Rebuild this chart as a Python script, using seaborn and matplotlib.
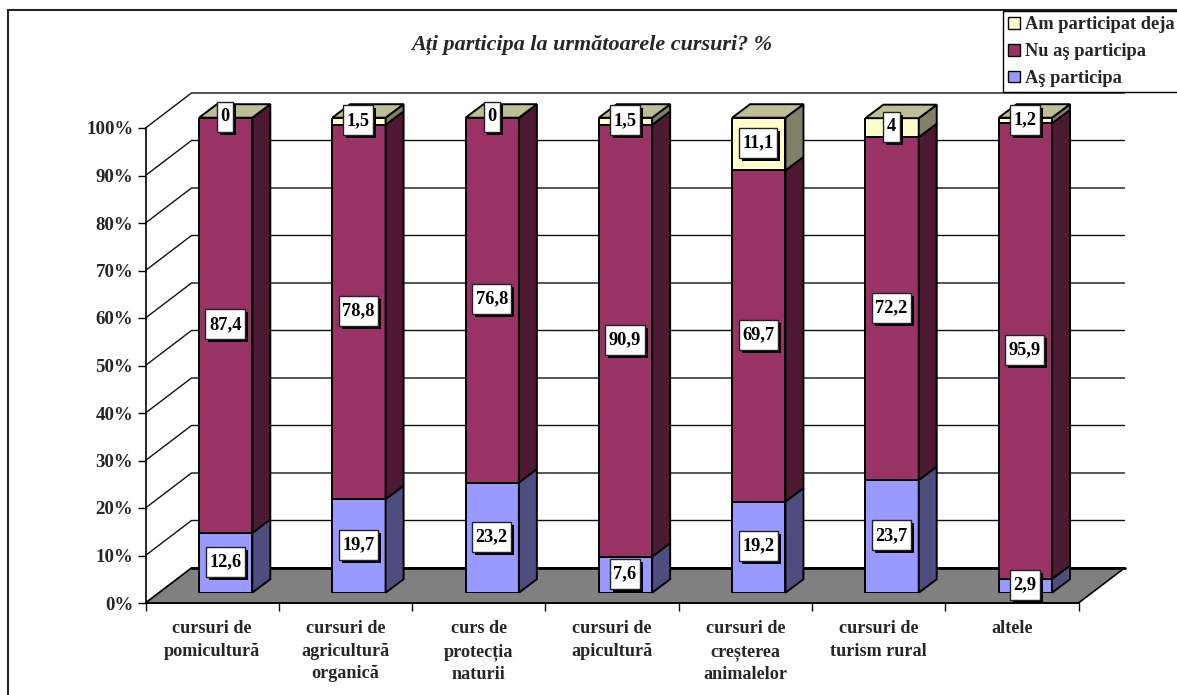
#!/usr/bin/env python3
# -*- coding: utf-8 -*-

import pandas as pd
import matplotlib
matplotlib.use("Agg")
import matplotlib.pyplot as plt
import matplotlib.patheffects as pe
import seaborn as sns
from matplotlib.patches import Patch, Polygon, Rectangle
from matplotlib.path import Path

# -----------------------------------------------------------------------------
# Data
# -----------------------------------------------------------------------------
CATEGORIES = ["cursuri de\npomicultură", "cursuri de\nagricultură\norganică",
              "curs de\nprotecția\nnaturii", "cursuri de\napicultură",
              "cursuri de\ncreșterea\nanimalelor", "cursuri de\nturism rural",
              "altele"]
AS_PARTICIPA = [12.6, 19.7, 23.2, 7.6, 19.2, 23.7, 2.9]
NU_AS_PARTICIPA = [87.4, 78.8, 76.8, 90.9, 69.7, 72.2, 95.9]
AM_PARTICIPAT = [0, 1.5, 0, 1.5, 11.1, 4, 1.2]
Y_TICKS = [0, 10, 20, 30, 40, 50, 60, 70, 80, 90, 100]
TITLE = "Ați participa la următoarele cursuri? %"
LEGEND_LABELS = ["Am participat deja", "Nu aş participa", "Aş participa"]

# -----------------------------------------------------------------------------
# Style and layout (pixels of the 1177x695 picture)
# -----------------------------------------------------------------------------
W, H = 1177, 695
LEFT, RIGHT, BOTTOM, TOP = 145.5, 1078.5, 603.0, 128.0
BAR_SHIFT_X, BAR_SHIFT_Y = 13.5, 10.3
PX_X = (RIGHT - LEFT) / 7
PX_Y = (BOTTOM - TOP) / 100
WALL_DX, WALL_DY = 46 / PX_X, 35 / PX_Y
BAR_DX, BAR_DY = 18 / PX_X, 13.5 / PX_Y

BLUE = ("#9999FF", "#4D4D80")
PURPLE = ("#993366", "#4D1933")
YELLOW = ("#FFFFCC", "#808066")
TOP_FACE = "#BDBD96"
FLOOR = "#808080"
EDGE = 1.4

sns.set_style("white")
plt.rcParams["font.family"] = ["Liberation Serif", "DejaVu Serif"]
plt.rcParams["font.weight"] = "bold"


def axes_rect(x0, x1, y_bottom, y_top):
    return [x0 / W, 1 - y_bottom / H, (x1 - x0) / W, (y_bottom - y_top) / H]


def label_box(x0, y0, width, height, mutation_size):
    # data label box: taller than the plain square boxstyle allows
    pad_x, pad_y = 3.5, 6.5
    return Path([(x0 - pad_x, y0 - pad_y), (x0 + width + pad_x, y0 - pad_y),
                 (x0 + width + pad_x, y0 + height + pad_y),
                 (x0 - pad_x, y0 + height + pad_y), (x0 - pad_x, y0 - pad_y)],
                closed=True)


def draw_walls(ax):
    for t in Y_TICKS:
        ax.plot([-0.5, -0.5 + WALL_DX, 6.5 + WALL_DX], [t, t + WALL_DY, t + WALL_DY],
                color="#111111", lw=1, clip_on=False, zorder=1)
    ax.add_patch(Polygon([(-0.5, 0), (-0.5 + WALL_DX, WALL_DY), (6.5 + WALL_DX, WALL_DY), (6.5, 0)],
                         closed=True, fc=FLOOR, ec="black", lw=1.2, clip_on=False, zorder=2))
    ax.plot([-0.5 + WALL_DX, 6.5 + WALL_DX], [WALL_DY, WALL_DY], color="black", lw=2,
            clip_on=False, zorder=3)


def draw_segment(ax, df, col, bottoms, colors):
    sns.barplot(data=df, x="curs", y=col, bottom=bottoms, color=colors[0], saturation=1,
                width=0.4, edgecolor="black", linewidth=EDGE, ax=ax, zorder=3)
    for bar in ax.containers[-1]:
        x1 = bar.get_x() + bar.get_width()
        y0, y1 = bar.get_y(), bar.get_y() + bar.get_height()
        ax.add_patch(Polygon([(x1, y0), (x1 + BAR_DX, y0 + BAR_DY), (x1 + BAR_DX, y1 + BAR_DY), (x1, y1)],
                             closed=True, fc=colors[1], ec="black", lw=EDGE, clip_on=False, zorder=3))


def draw_top_faces(ax):
    for bar in ax.containers[-1]:
        x0, x1 = bar.get_x(), bar.get_x() + bar.get_width()
        y = bar.get_y() + bar.get_height()
        ax.add_patch(Polygon([(x0, y), (x1, y), (x1 + BAR_DX, y + BAR_DY), (x0 + BAR_DX, y + BAR_DY)],
                             closed=True, fc=TOP_FACE, ec="black", lw=EDGE, clip_on=False, zorder=3))


def draw_label(ax, x, y, value):
    text = f"{value:g}".replace(".", ",")
    ann = ax.annotate(text, (x, y), xytext=(-0.5, 1), textcoords="offset pixels", ha="center", va="center",
                      fontsize=13.2, color="black", zorder=7, annotation_clip=False,
                      bbox=dict(boxstyle=label_box, fc="white", ec="#222222", lw=1))
    # hard black drop shadow of the box, 3 px right and down
    ann.get_bbox_patch().set_path_effects([
        pe.SimplePatchShadow(offset=(2.16, -2.16), shadow_rgbFace="black", alpha=1),
        pe.Normal()])


def main():
    df = pd.DataFrame({"curs": CATEGORIES, "as": AS_PARTICIPA, "nu": NU_AS_PARTICIPA, "am": AM_PARTICIPAT})
    nu_base = df["as"]
    am_base = df["as"] + df["nu"]

    fig = plt.figure(figsize=(W / 100, H / 100), dpi=100, facecolor="white")

    # --- front axis, walls and floor ---
    ax = fig.add_axes(axes_rect(LEFT, RIGHT, BOTTOM, TOP), zorder=1)
    ax.set_facecolor("none")
    ax.set_xlim(-0.5, 6.5)
    ax.set_ylim(0, 100)
    draw_walls(ax)
    ax.set_yticks(Y_TICKS, [f"{t}%" for t in Y_TICKS], fontsize=13.6)
    ax.set_xticks([i - 0.5 for i in range(8)], [""] * 8)
    ax.set_xticks(range(7), CATEGORIES, minor=True, fontsize=13.1, linespacing=1.42)
    ax.tick_params(axis="both", which="major", direction="out", length=5.8, width=1, color="black", pad=3, left=True, bottom=True)
    ax.tick_params(axis="x", which="minor", length=0, pad=12.5, bottom=False)
    for side in ["top", "right"]:
        ax.spines[side].set_visible(False)
    for side in ["left", "bottom"]:
        ax.spines[side].set_color("black")
        ax.spines[side].set_linewidth(1.2)
        ax.spines[side].set_zorder(4)

    # --- stacked bars, one plane in front of the back wall ---
    ax_bars = fig.add_axes(axes_rect(LEFT + BAR_SHIFT_X, RIGHT + BAR_SHIFT_X,
                                     BOTTOM - BAR_SHIFT_Y, TOP - BAR_SHIFT_Y), zorder=2)
    ax_bars.set_facecolor("none")
    draw_segment(ax_bars, df, "as", [0] * len(df), BLUE)
    draw_segment(ax_bars, df, "nu", nu_base.values, PURPLE)
    draw_segment(ax_bars, df, "am", am_base.values, YELLOW)
    draw_top_faces(ax_bars)
    ax_bars.set_xlim(-0.5, 6.5)
    ax_bars.set_ylim(0, 100)
    ax_bars.axis("off")

    for i in range(len(df)):
        draw_label(ax_bars, i, df["as"][i] / 2, df["as"][i])
        draw_label(ax_bars, i, nu_base[i] + df["nu"][i] / 2, df["nu"][i])
        draw_label(ax_bars, i, am_base[i] + df["am"][i] / 2, df["am"][i])

    # --- chart frame, title, legend ---
    fig.add_artist(Rectangle((8 / W, -0.1), 1.2, 1.1 - 10 / H, transform=fig.transFigure,
                             fc="none", ec="#222222", lw=1.5))
    fig.text(592 / W, 1 - 45 / H, TITLE, ha="center", va="center", style="italic", fontsize=15.9)

    handles = [Patch(fc=c[0], ec="black", lw=1) for c in (YELLOW, PURPLE, BLUE)]
    leg = fig.legend(handles, LEGEND_LABELS, loc="upper left", bbox_to_anchor=(1003 / W, 1 - 11 / H),
                     borderaxespad=0, fontsize=13.2, fancybox=False, framealpha=1, edgecolor="black",
                     handlelength=0.62, handleheight=0.62, handletextpad=0.3, labelspacing=0.54,
                     borderpad=0.28)
    leg.get_frame().set_linewidth(1)
    leg.set_zorder(10)

    fig.savefig("out.png", dpi=100)


if __name__ == "__main__":
    main()
